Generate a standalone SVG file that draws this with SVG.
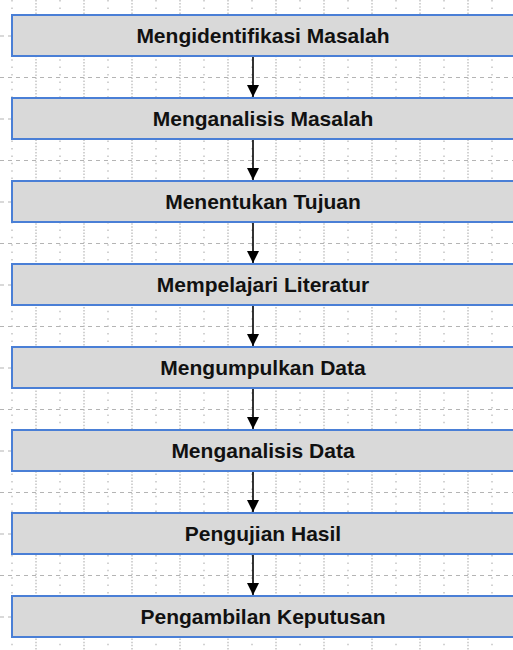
<svg xmlns="http://www.w3.org/2000/svg" width="513" height="650" viewBox="0 0 513 650">
  <defs>
    <style>
      .bg { fill: #ffffff; }
      .vmin { stroke: #b4b4b4; stroke-width: 1.2; stroke-dasharray: 1.5 5.9; }
      .vmaj { stroke: #b4b4b4; stroke-width: 1.2; stroke-dasharray: 1.5 1.6; }
      .hgrid { stroke: #b4b4b4; stroke-width: 1.2; stroke-dasharray: 4 4; }
      .box { fill: #d9d9d9; stroke: #4a7fd6; stroke-width: 2; }
      .label { font-family: "Liberation Sans", Arial, sans-serif; font-weight: bold; font-size: 21px; fill: #111111; text-anchor: middle; }
      .conn { stroke: #000000; stroke-width: 1.6; fill: none; }
    </style>
    <marker id="arrow" viewBox="0 0 12 15" refX="12" refY="6" markerWidth="12" markerHeight="15" markerUnits="userSpaceOnUse" orient="auto">
      <path d="M0,0 L12,6 L0,12 Z" fill="#000000"/>
    </marker>
    <pattern id="vgrid" x="0" y="0" width="48" height="650" patternUnits="userSpaceOnUse">
      <line class="vmin" x1="12" y1="0" x2="12" y2="650"/>
      <line class="vmaj" x1="36" y1="0" x2="36" y2="650"/>
    </pattern>
  </defs>

  <rect class="bg" x="0" y="0" width="513" height="650"/>

  <!-- background grid -->
  <g id="grid">
    <rect x="0" y="0" width="513" height="650" fill="url(#vgrid)"/>
    <line class="hgrid" x1="0" y1="36" x2="513" y2="36"/>
    <line class="hgrid" x1="0" y1="77.5" x2="513" y2="77.5"/>
    <line class="hgrid" x1="0" y1="119" x2="513" y2="119"/>
    <line class="hgrid" x1="0" y1="160.5" x2="513" y2="160.5"/>
    <line class="hgrid" x1="0" y1="202" x2="513" y2="202"/>
    <line class="hgrid" x1="0" y1="243.5" x2="513" y2="243.5"/>
    <line class="hgrid" x1="0" y1="285" x2="513" y2="285"/>
    <line class="hgrid" x1="0" y1="326.5" x2="513" y2="326.5"/>
    <line class="hgrid" x1="0" y1="368" x2="513" y2="368"/>
    <line class="hgrid" x1="0" y1="409.5" x2="513" y2="409.5"/>
    <line class="hgrid" x1="0" y1="451" x2="513" y2="451"/>
    <line class="hgrid" x1="0" y1="492.5" x2="513" y2="492.5"/>
    <line class="hgrid" x1="0" y1="534" x2="513" y2="534"/>
    <line class="hgrid" x1="0" y1="575.5" x2="513" y2="575.5"/>
    <line class="hgrid" x1="0" y1="617" x2="513" y2="617"/>
  </g>

  <!-- process steps -->
  <g id="step1">
    <rect class="box" x="12" y="15" width="510" height="41"/>
    <text class="label" x="263" y="43">Mengidentifikasi Masalah</text>
  </g>
  <g id="step2">
    <rect class="box" x="12" y="98" width="510" height="41"/>
    <text class="label" x="263" y="126">Menganalisis Masalah</text>
  </g>
  <g id="step3">
    <rect class="box" x="12" y="181" width="510" height="41"/>
    <text class="label" x="263" y="209">Menentukan Tujuan</text>
  </g>
  <g id="step4">
    <rect class="box" x="12" y="264" width="510" height="41"/>
    <text class="label" x="263" y="292">Mempelajari Literatur</text>
  </g>
  <g id="step5">
    <rect class="box" x="12" y="347" width="510" height="41"/>
    <text class="label" x="263" y="375">Mengumpulkan Data</text>
  </g>
  <g id="step6">
    <rect class="box" x="12" y="430" width="510" height="41"/>
    <text class="label" x="263" y="458">Menganalisis Data</text>
  </g>
  <g id="step7">
    <rect class="box" x="12" y="513" width="510" height="41"/>
    <text class="label" x="263" y="541">Pengujian Hasil</text>
  </g>
  <g id="step8">
    <rect class="box" x="12" y="596" width="510" height="41"/>
    <text class="label" x="263" y="624">Pengambilan Keputusan</text>
  </g>

  <!-- connectors -->
  <g id="connectors">
    <line class="conn" x1="253" y1="57" x2="253" y2="97" marker-end="url(#arrow)"/>
    <line class="conn" x1="253" y1="140" x2="253" y2="180" marker-end="url(#arrow)"/>
    <line class="conn" x1="253" y1="223" x2="253" y2="263" marker-end="url(#arrow)"/>
    <line class="conn" x1="253" y1="306" x2="253" y2="346" marker-end="url(#arrow)"/>
    <line class="conn" x1="253" y1="389" x2="253" y2="429" marker-end="url(#arrow)"/>
    <line class="conn" x1="253" y1="472" x2="253" y2="512" marker-end="url(#arrow)"/>
    <line class="conn" x1="253" y1="555" x2="253" y2="595" marker-end="url(#arrow)"/>
  </g>
</svg>
